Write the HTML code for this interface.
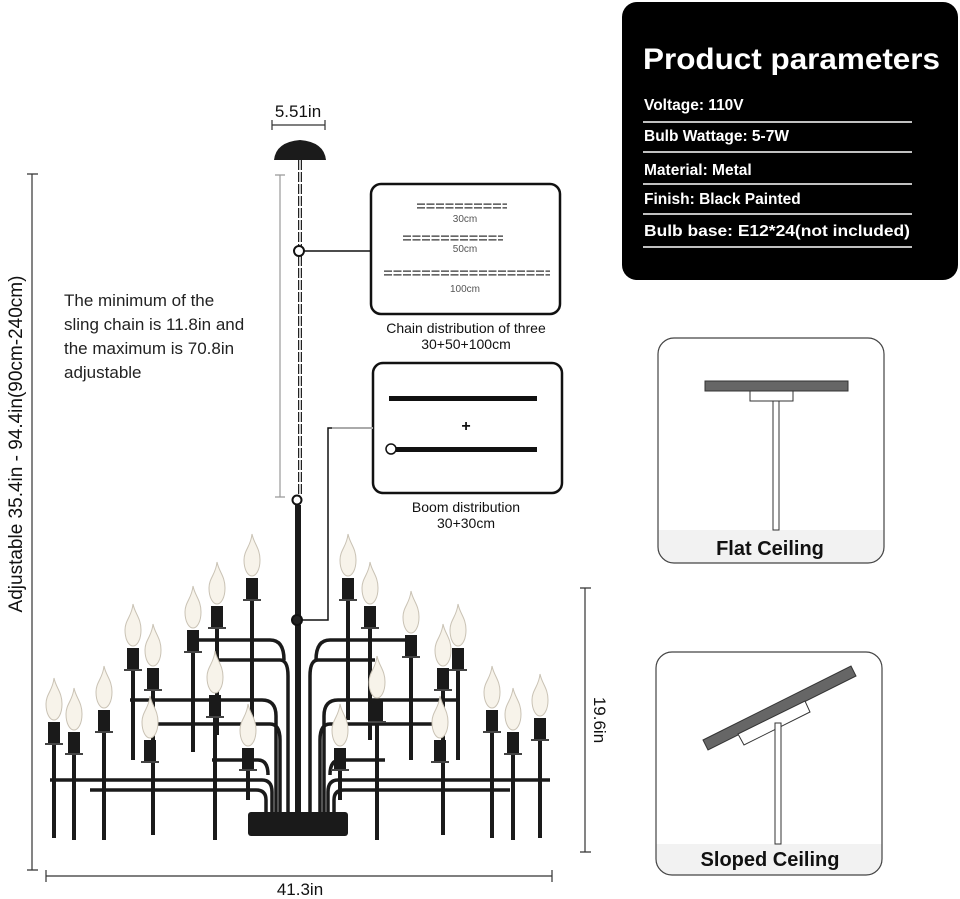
<!DOCTYPE html>
<html><head><meta charset="utf-8"><style>
html,body{margin:0;padding:0;background:#fff;}
svg{display:block;}
text{font-family:"Liberation Sans","DejaVu Sans",sans-serif;}
</style></head><body>
<svg width="960" height="899" viewBox="0 0 960 899" xmlns="http://www.w3.org/2000/svg">
<defs>
<g id="cd">
 <path d="M0,-44 C2,-34 8,-30 8,-18 C8,-8 4,-2 0,-2 C-4,-2 -8,-8 -8,-18 C-8,-28 -1,-32 0,-44Z" fill="#f7f3ea" stroke="#c9c2b4" stroke-width="1"/>
 <rect x="-6" y="0" width="12" height="22" fill="#1a1a1a"/>
 <rect x="-9" y="21" width="18" height="2" fill="#444"/>
</g>
<clipPath id="c1"><rect x="658" y="338" width="226" height="225" rx="16"/></clipPath>
<clipPath id="c2"><rect x="656" y="652" width="226" height="223" rx="16"/></clipPath>
</defs>

<!-- Parameters panel -->
<rect x="622" y="2" width="336" height="278" rx="15" fill="#000"/>
<text x="643" y="69" font-size="30" font-weight="bold" fill="#fff" textLength="297" lengthAdjust="spacingAndGlyphs">Product parameters</text>
<g font-size="15.5" font-weight="bold" fill="#fff">
<text x="644" y="110">Voltage: 110V</text>
<text x="644" y="141">Bulb Wattage: 5-7W</text>
<text x="644" y="175">Material: Metal</text>
<text x="644" y="204">Finish: Black Painted</text>
<text x="644" y="236" textLength="266" lengthAdjust="spacingAndGlyphs">Bulb base: E12*24(not included)</text>
</g>
<g stroke="#fff" stroke-width="1.5">
<line x1="643" y1="122" x2="912" y2="122"/><line x1="643" y1="152" x2="912" y2="152"/>
<line x1="643" y1="184" x2="912" y2="184"/><line x1="643" y1="214" x2="912" y2="214"/>
<line x1="643" y1="247" x2="912" y2="247"/>
</g>

<!-- Flat ceiling -->
<rect x="658" y="338" width="226" height="225" rx="16" fill="#fff"/>
<rect x="658" y="530" width="226" height="34" fill="#f2f2f2" clip-path="url(#c1)"/>
<rect x="658" y="338" width="226" height="225" rx="16" fill="none" stroke="#444" stroke-width="1.2"/>
<rect x="705" y="381" width="143" height="10" fill="#666" stroke="#333"/>
<rect x="750" y="391" width="43" height="10" fill="#fff" stroke="#333"/>
<rect x="773" y="401" width="6" height="129" fill="#fff" stroke="#333"/>
<text x="770" y="555" font-size="20" font-weight="bold" text-anchor="middle" fill="#111">Flat Ceiling</text>

<!-- Sloped ceiling -->
<rect x="656" y="652" width="226" height="223" rx="16" fill="#fff"/>
<rect x="656" y="844" width="226" height="32" fill="#f2f2f2" clip-path="url(#c2)"/>
<rect x="656" y="652" width="226" height="223" rx="16" fill="none" stroke="#444" stroke-width="1.2"/>
<polygon points="703,740 851,666 856,676 708,750" fill="#666" stroke="#333"/>
<polygon points="738,734 805,701 810,712 744,745" fill="#fff" stroke="#333"/>
<rect x="775" y="723" width="6" height="121" fill="#fff" stroke="#333"/>
<text x="770" y="866" font-size="20" font-weight="bold" text-anchor="middle" fill="#111">Sloped Ceiling</text>

<!-- Chain box -->
<rect x="371" y="184" width="189" height="130" rx="10" fill="#fff" stroke="#111" stroke-width="2.5"/>
<g fill="none" stroke="#333" stroke-width="1.2">
<path d="M417,206 h90" stroke-dasharray="8,1.5" stroke-width="5"/>
<path d="M403,238 h100" stroke-dasharray="8,1.5" stroke-width="5"/>
<path d="M384,273 h166" stroke-dasharray="8,1.5" stroke-width="5"/>
</g>
<g fill="none" stroke="#fff" stroke-width="2.6">
<path d="M417,206 h90" stroke-dasharray="8,1.5"/>
<path d="M403,238 h100" stroke-dasharray="8,1.5"/>
<path d="M384,273 h166" stroke-dasharray="8,1.5"/>
</g>
<g font-size="10" fill="#555" text-anchor="middle">
<text x="465" y="222">30cm</text><text x="465" y="252">50cm</text><text x="465" y="292">100cm</text>
</g>
<text x="466" y="333" font-size="14" text-anchor="middle" fill="#111">Chain distribution of three</text>
<text x="466" y="349" font-size="14" text-anchor="middle" fill="#111">30+50+100cm</text>

<!-- Boom box -->
<rect x="373" y="363" width="189" height="130" rx="10" fill="#fff" stroke="#111" stroke-width="2.5"/>
<rect x="389" y="396" width="148" height="5" fill="#111"/>
<text x="466" y="431" font-size="16" font-weight="bold" text-anchor="middle" fill="#111">+</text>
<rect x="392" y="447" width="145" height="5" fill="#111"/>
<circle cx="391" cy="449" r="5" fill="#fff" stroke="#111" stroke-width="1.5"/>
<text x="466" y="512" font-size="14" text-anchor="middle" fill="#111">Boom distribution</text>
<text x="466" y="528" font-size="14" text-anchor="middle" fill="#111">30+30cm</text>

<!-- connectors -->
<line x1="300" y1="251" x2="371" y2="251" stroke="#111" stroke-width="1.5"/>
<line x1="332" y1="428" x2="373" y2="428" stroke="#aaa" stroke-width="2"/>
<polyline points="332,428 328,428 328,620 302,620" fill="none" stroke="#111" stroke-width="1.5"/>

<!-- dims -->
<text x="298" y="117" font-size="17" text-anchor="middle" fill="#111">5.51in</text>
<path d="M272,120 V130 M272,125 H325 M325,120 V130" stroke="#333" stroke-width="1.2" fill="none"/>
<path d="M275,175 H285 M280,175 V497 M275,497 H285" stroke="#999" stroke-width="1.2" fill="none"/>
<path d="M27,174 H38 M32,174 V870 M27,870 H38" stroke="#333" stroke-width="1.2" fill="none"/>
<path d="M46,870 V882 M46,876 H552 M552,870 V882" stroke="#333" stroke-width="1.2" fill="none"/>
<path d="M580,588 H591 M585,588 V852 M580,852 H591" stroke="#333" stroke-width="1.2" fill="none"/>
<text x="300" y="895" font-size="17" text-anchor="middle" fill="#111">41.3in</text>
<text transform="translate(594,720) rotate(90)" font-size="17" text-anchor="middle" fill="#111">19.6in</text>
<text transform="translate(22,444) rotate(-90)" font-size="19" text-anchor="middle" fill="#111">Adjustable 35.4in - 94.4in(90cm-240cm)</text>

<g font-size="17" fill="#222">
<text x="64" y="306">The minimum of the</text>
<text x="64" y="330">sling chain is 11.8in and</text>
<text x="64" y="354">the maximum is 70.8in</text>
<text x="64" y="378">adjustable</text>
</g>

<!-- canopy, chain, rod -->
<path d="M274,160 Q276,142 300,140 Q324,142 326,160 Z" fill="#1b1b1b"/>
<line x1="300" y1="160" x2="300" y2="495" stroke="#222" stroke-width="4" stroke-dasharray="10,2"/>
<line x1="300" y1="160" x2="300" y2="495" stroke="#fff" stroke-width="1.5" stroke-dasharray="10,2"/>
<circle cx="299" cy="251" r="5" fill="#fff" stroke="#111" stroke-width="2"/>
<circle cx="297" cy="500" r="4.5" fill="#fff" stroke="#111" stroke-width="2"/>
<rect x="295" y="505" width="6" height="310" fill="#1a1a1a"/>
<circle cx="297" cy="620" r="5" fill="#222" stroke="#111" stroke-width="2"/>

<!-- chandelier arms -->
<g fill="none" stroke="#1a1a1a" stroke-width="3.5">
<path d="M50,780 H262 Q272,780 272,792 V815"/>
<path d="M90,790 H256 Q266,790 266,800 V815"/>
<path d="M550,780 H338 Q328,780 328,792 V815"/>
<path d="M510,790 H344 Q334,790 334,800 V815"/>
<path d="M150,724 H270 Q280,724 280,740 V815"/>
<path d="M445,724 H330 Q320,724 320,740 V815"/>
<path d="M130,700 H262 Q276,700 276,716 V815"/>
<path d="M460,700 H338 Q324,700 324,716 V815"/>
<path d="M215,660 H280 Q288,660 288,676 V815"/>
<path d="M375,660 H318 Q310,660 310,676 V815"/>
<path d="M195,640 H270 Q284,640 284,660"/>
<path d="M410,640 H330 Q316,640 316,660"/>
<path d="M212,760 H258 Q268,760 268,775"/>
<path d="M385,760 H340 Q330,760 330,775"/>
</g>
<rect x="248" y="812" width="100" height="24" rx="3" fill="#1a1a1a"/>

<!-- candle rods -->
<g fill="#1a1a1a">
<rect x="250" y="600" width="4" height="120"/><rect x="346" y="600" width="4" height="120"/>
<rect x="215" y="628" width="4" height="107"/><rect x="368" y="628" width="4" height="112"/>
<rect x="191" y="652" width="4" height="100"/><rect x="409" y="657" width="4" height="103"/>
<rect x="131" y="670" width="4" height="90"/><rect x="456" y="670" width="4" height="90"/>
<rect x="151" y="690" width="4" height="145"/><rect x="441" y="690" width="4" height="145"/>
<rect x="213" y="717" width="4" height="123"/><rect x="375" y="722" width="4" height="118"/>
<rect x="52" y="744" width="4" height="94"/><rect x="72" y="754" width="4" height="86"/>
<rect x="102" y="732" width="4" height="108"/><rect x="490" y="732" width="4" height="106"/>
<rect x="511" y="754" width="4" height="86"/><rect x="538" y="740" width="4" height="98"/>
<rect x="246" y="770" width="4" height="30"/><rect x="338" y="770" width="4" height="30"/>
</g>
<!-- candles -->
<use href="#cd" x="252" y="578"/><use href="#cd" x="348" y="578"/>
<use href="#cd" x="217" y="606"/><use href="#cd" x="370" y="606"/>
<use href="#cd" x="193" y="630"/><use href="#cd" x="411" y="635"/>
<use href="#cd" x="133" y="648"/><use href="#cd" x="458" y="648"/>
<use href="#cd" x="153" y="668"/><use href="#cd" x="443" y="668"/>
<use href="#cd" x="215" y="695"/><use href="#cd" x="377" y="700"/>
<use href="#cd" x="54" y="722"/><use href="#cd" x="74" y="732"/>
<use href="#cd" x="104" y="710"/><use href="#cd" x="492" y="710"/>
<use href="#cd" x="513" y="732"/><use href="#cd" x="540" y="718"/>
<use href="#cd" x="248" y="748"/><use href="#cd" x="340" y="748"/>
<use href="#cd" x="150" y="740"/><use href="#cd" x="440" y="740"/>
</svg>
</body></html>
